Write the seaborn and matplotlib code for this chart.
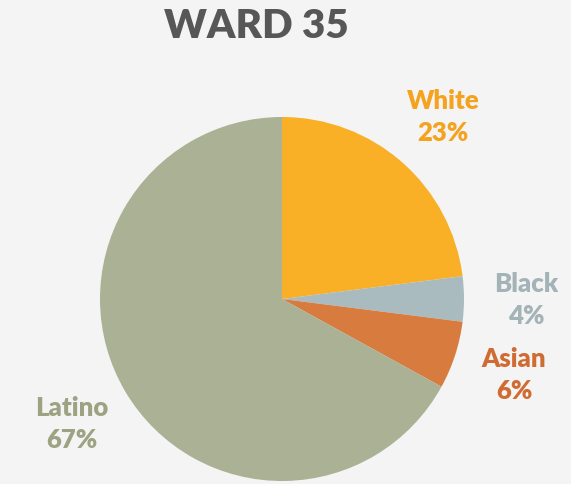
import matplotlib
matplotlib.use("Agg")
import matplotlib.pyplot as plt
import seaborn as sns

# data
groups = ["White", "Black", "Asian", "Latino"]
shares = [23, 4, 6, 67]
wedge_colors = ["#F9AF26", "#AABBC0", "#D87B3E", "#ABB194"]
label_colors = ["#F5A21E", "#A3B3B8", "#D06B33", "#9DA382"]
title = "WARD 35"

sns.set_theme(style="white")
plt.rcParams["font.family"] = ["Lato", "DejaVu Sans"]

bg = "#F4F4F4"
fig = plt.figure(figsize=(5.71, 4.85), dpi=100, facecolor=bg)
ax = fig.add_axes([0, 0, 1, 1])
ax.set_facecolor(bg)

labels = [f"{g}\n{s}%" for g, s in zip(groups, shares)]
wedges, texts = ax.pie(
    shares, colors=wedge_colors, labels=labels, startangle=90,
    counterclock=False, center=(282, 185), radius=182,
    labeldistance=1.34, frame=True,
    wedgeprops=dict(linewidth=0, edgecolor="none"),
    textprops=dict(fontsize=18.5, fontweight="heavy", ha="center",
                   va="center", linespacing=1.4),
)
ax.set_xlim(0, 571)
ax.set_ylim(0, 485)
ax.set_aspect("equal")
ax.axis("off")
for t, c in zip(texts, label_colors):
    t.set_color(c)
    t.set_ha("center")

fig.text(256 / 571, 1 - 27 / 485, title, ha="center", va="center",
         fontsize=29, fontweight="heavy", color="#575757")

fig.savefig("out.png", dpi=100, facecolor=bg)
